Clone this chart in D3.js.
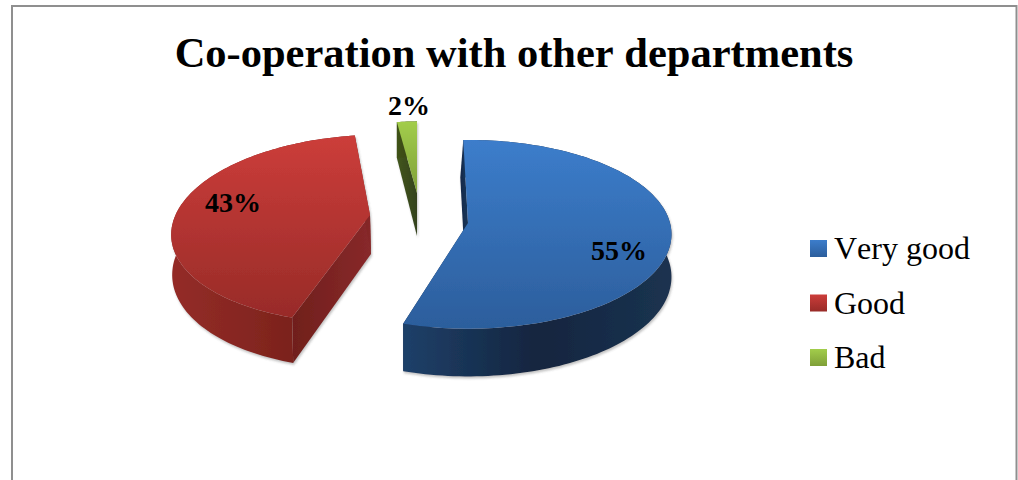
<!DOCTYPE html>
<html>
<head>
<meta charset="utf-8">
<script src="https://cdn.jsdelivr.net/npm/d3@7/dist/d3.min.js"></script>
<style>
html,body{margin:0;padding:0;background:#fff}
svg{display:block}
text{font-family:"Liberation Serif","Times New Roman",serif;fill:#000;font-kerning:none}
</style>
</head>
<body>
<svg id="chart" width="1018" height="480"></svg>
<script>
// Survey answers, in percent
const categories = ["Very good", "Good", "Bad"];
const values = [55, 43, 2];
const chartTitle = "Co-operation with other departments";

// Face and wall colours of each slice
const faceStops = [["#3c7dcb", "#2c5e9c"], ["#cc3d3a", "#982b28"], ["#a2cd4b", "#7f9f38"]];
const wallStops = [["#1f4069", "#12253f", "#1b3350"], ["#942c28", "#82251f", "#6a1b18"], ["#3f5219", "#3a4a18", "#33421a"]];
const cutStops = [["#14294a", "#1a3558"], ["#701f1c", "#88292a"], ["#43561c", "#33421a"]];

// Perspective of each exploded slice: apex, radius, tilt and wall height
const sliceView = [
  {ax: 468, ay: 223, R: 202, P: 0.12, Q: 93, H: 0, D: 42, lean: 0, startLean: -3, lx: 619, ly: 260},
  {ax: 370, ay: 215, R: 194.5, P: 0.146, Q: 92, H: 12.2, D: 39, lean: 1, startLean: 1, lx: 233, ly: 212},
  {ax: 417, ay: 193, R: 192, P: 0.2, Q: 86, H: 5, D: 43, lean: 0, startLean: 0, lx: 409, ly: 115}
];

const svg = d3.select("#chart");
const defs = svg.append("defs");

function gradient(id, stops, vertical) {
  const g = defs.append("linearGradient").attr("id", id)
    .attr("x1", 0).attr("y1", 0)
    .attr("x2", vertical ? 0 : 1).attr("y2", vertical ? 1 : 0);
  g.selectAll("stop").data(stops).join("stop")
    .attr("offset", (d, i) => i / (stops.length - 1))
    .attr("stop-color", d => d);
}
categories.forEach((c, i) => {
  gradient("face" + i, faceStops[i], true);
  gradient("wall" + i, wallStops[i], false);
  gradient("cut" + i, cutStops[i], false);
});

const shadow = defs.append("filter").attr("id", "soft")
  .attr("x", "-10%").attr("y", "-10%").attr("width", "120%").attr("height", "125%");
shadow.append("feDropShadow").attr("dx", 1).attr("dy", 2).attr("stdDeviation", 1.2)
  .attr("flood-color", "#555").attr("flood-opacity", 0.35);

// Outer frame; its lower edge runs off the page
svg.append("rect").attr("x", 12).attr("y", 6).attr("width", 1004.5).attr("height", 520)
  .attr("fill", "#fff").attr("stroke", "#8f8f8f").attr("stroke-width", 2);

svg.append("text").attr("x", 514).attr("y", 67).attr("text-anchor", "middle")
  .attr("font-size", 42.5).attr("font-weight", "bold").text(chartTitle);

// Angles run clockwise from the top, turned slightly back from twelve o'clock
const rotation = -1.5 * Math.PI / 180;
const pie = d3.pie().sort(null)
  .startAngle(rotation).endAngle(2 * Math.PI + rotation);
const arcs = pie(values);

function project(view, a, drop, lean) {
  const v = Math.cos(a), u = Math.sin(a);
  const s = 1 / (1 + view.P * v);
  return [
    view.ax + (u * view.R + view.H * v) * s + (drop ? lean : 0),
    view.ay - view.Q * v * s + (drop ? view.D * s : 0)
  ];
}
function apex(view, drop, lean) {
  return [view.ax + (drop ? lean : 0), view.ay + (drop ? view.D : 0)];
}
const outline = d3.line();

const slices = svg.append("g").selectAll("g").data(arcs).join("g")
  .attr("filter", "url(#soft)");

slices.each(function (d, i) {
  const view = sliceView[i], g = d3.select(this);
  const steps = Math.max(8, Math.round((d.endAngle - d.startAngle) * 40));
  const angles = d3.range(steps + 1).map(k => d.startAngle + (d.endAngle - d.startAngle) * k / steps);
  const rim = angles.map(a => project(view, a, false, 0));
  const rimLow = angles.map(a => project(view, a, true, view.lean));

  // Cut faces at both radial edges, then the curved wall, then the top
  [[d.startAngle, view.startLean], [d.endAngle, view.lean]].forEach(([a, lean]) => {
    g.append("path").attr("fill", `url(#cut${i})`).attr("d", outline([
      project(view, a, false, 0), apex(view, false, 0), apex(view, true, lean), project(view, a, true, lean)
    ]) + "Z");
  });
  g.append("path").attr("fill", `url(#wall${i})`)
    .attr("d", outline(rim.concat(rimLow.slice().reverse())) + "Z");
  g.append("path").attr("fill", `url(#face${i})`)
    .attr("d", outline([apex(view, false, 0), ...rim]) + "Z");
});

// Percentage labels
svg.append("g").selectAll("text").data(arcs).join("text")
  .attr("x", (d, i) => sliceView[i].lx).attr("y", (d, i) => sliceView[i].ly)
  .attr("text-anchor", "middle").attr("font-size", 28).attr("font-weight", "bold")
  .text(d => d.value + "%");

// Legend
const legendY = d3.scalePoint().domain(categories).range([240, 349]);
const legend = svg.append("g").selectAll("g").data(categories).join("g")
  .attr("transform", d => `translate(810,${legendY(d)})`);
legend.append("rect").attr("width", 17).attr("height", 17)
  .attr("fill", (d, i) => `url(#face${i})`);
legend.append("text").attr("x", 24).attr("y", 19).attr("font-size", 32).text(d => d);
</script>
</body>
</html>
